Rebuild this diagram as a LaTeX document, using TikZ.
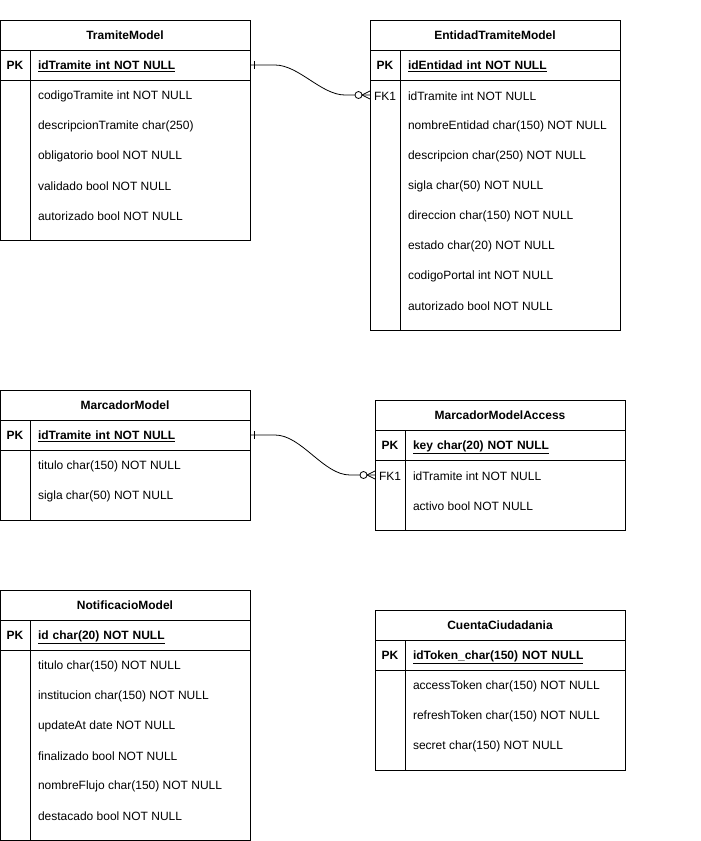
\documentclass[tikz,border=0pt]{standalone}
\usepackage{fontspec}
\setmainfont{Liberation Sans}
\usetikzlibrary{positioning}

\begin{document}
\begin{tikzpicture}[x=1pt,y=-1pt,line width=0.8pt,
	font=\fontsize{12}{14}\selectfont,
	every node/.style={outer sep=0pt},
	hdr/.style={draw,anchor=north west,minimum width=250pt,minimum height=30pt,inner sep=0pt,text height=9pt,text depth=0pt,font=\fontsize{12}{14}\selectfont\bfseries},
	key/.style={draw,anchor=north west,minimum width=30pt,minimum height=30pt,inner sep=0pt,text height=9pt,text depth=0pt,font=\fontsize{12}{14}\selectfont\bfseries},
	keyrow/.style={draw,anchor=north west,minimum width=220pt,minimum height=30pt,inner xsep=8pt,inner ysep=0pt,text width=204pt,text height=9pt,text depth=0pt,align=left,font=\fontsize{12}{14}\selectfont\bfseries},
	side/.style={draw,anchor=north west,minimum width=30pt,inner sep=0pt},
	body/.style={draw,anchor=north west,minimum width=220pt,inner sep=0pt},
	field/.style={anchor=west,inner sep=0pt},
	rel/.style={line width=0.8pt}]
	\useasboundingbox (0,0) rectangle (701,841);

	% TramiteModel
	\node[hdr] (tram) at (0,20) {TramiteModel};
	\node[key] (tramK) at (tram.south west) {PK};
	\node[keyrow] (tramKR) at (tramK.north east) {\underline{idTramite int NOT NULL}};
	\node[side,minimum height=160pt] (tramS) at (tramK.south west) {};
	\node[body,minimum height=160pt] (tramB) at (tramS.north east) {};
	\foreach \t [count=\i] in {codigoTramite int NOT NULL, descripcionTramite char(250), obligatorio bool NOT NULL, validado bool NOT NULL, autorizado bool NOT NULL}
		\node[field] (tramF\i) at (38,66+30*\i) {\t};

	% EntidadTramiteModel
	\node[hdr] (ent) at (370,20) {EntidadTramiteModel};
	\node[key] (entK) at (ent.south west) {PK};
	\node[keyrow] (entKR) at (entK.north east) {\underline{idEntidad int NOT NULL}};
	\node[side,minimum height=250pt] (entS) at (entK.south west) {};
	\node[body,minimum height=250pt] (entB) at (entS.north east) {};
	\node (entFKt) at (385,96) {FK1};
	\foreach \t [count=\i] in {idTramite int NOT NULL, nombreEntidad char(150) NOT NULL, descripcion char(250) NOT NULL, sigla char(50) NOT NULL, direccion char(150) NOT NULL, estado char(20) NOT NULL, codigoPortal int NOT NULL, autorizado bool NOT NULL}
		\node[field] (entF\i) at (408,66+30*\i) {\t};
	\coordinate (entFK) at (370,95);

	% MarcadorModel
	\node[hdr] (marc) at (0,390) {MarcadorModel};
	\node[key] (marcK) at (marc.south west) {PK};
	\node[keyrow] (marcKR) at (marcK.north east) {\underline{idTramite int NOT NULL}};
	\node[side,minimum height=70pt] (marcS) at (marcK.south west) {};
	\node[body,minimum height=70pt] (marcB) at (marcS.north east) {};
	\foreach \t [count=\i] in {titulo char(150) NOT NULL, sigla char(50) NOT NULL}
		\node[field] (marcF\i) at (38,436+30*\i) {\t};

	% MarcadorModelAccess
	\node[hdr] (acc) at (375,400) {MarcadorModelAccess};
	\node[key] (accK) at (acc.south west) {PK};
	\node[keyrow] (accKR) at (accK.north east) {\underline{key char(20) NOT NULL}};
	\node[side,minimum height=70pt] (accS) at (accK.south west) {};
	\node[body,minimum height=70pt] (accB) at (accS.north east) {};
	\node (accFKt) at (390,476) {FK1};
	\foreach \t [count=\i] in {idTramite int NOT NULL, activo bool NOT NULL}
		\node[field] (accF\i) at (413,446+30*\i) {\t};
	\coordinate (accFK) at (375,475);

	% NotificacioModel
	\node[hdr] (noti) at (0,590) {NotificacioModel};
	\node[key] (notiK) at (noti.south west) {PK};
	\node[keyrow] (notiKR) at (notiK.north east) {\underline{id char(20) NOT NULL}};
	\node[side,minimum height=190pt] (notiS) at (notiK.south west) {};
	\node[body,minimum height=190pt] (notiB) at (notiS.north east) {};
	\foreach \t [count=\i] in {titulo char(150) NOT NULL, institucion char(150) NOT NULL, updateAt date NOT NULL, finalizado bool NOT NULL, nombreFlujo char(150) NOT NULL, destacado bool NOT NULL}
		\node[field] (notiF\i) at (38,636+30*\i) {\t};

	% CuentaCiudadania
	\node[hdr] (cta) at (375,610) {CuentaCiudadania};
	\node[key] (ctaK) at (cta.south west) {PK};
	\node[keyrow] (ctaKR) at (ctaK.north east) {\underline{idToken\_char(150) NOT NULL}};
	\node[side,minimum height=100pt] (ctaS) at (ctaK.south west) {};
	\node[body,minimum height=100pt] (ctaB) at (ctaS.north east) {};
	\foreach \t [count=\i] in {accessToken char(150) NOT NULL, refreshToken char(150) NOT NULL, secret char(150) NOT NULL}
		\node[field] (ctaF\i) at (413,656+30*\i) {\t};

	% relations: one to zero-or-many
	\draw[rel] (tramKR.east) -- ++(25,0) to[out=0,in=180,looseness=0.8] ++(70,30) -- (entFK);
	\draw[rel] (tramKR.east) ++(4,-4) -- ++(0,8);
	\draw[rel] (entFK) ++(-8,0) -- ++(8,-4) (entFK) ++(-8,0) -- ++(8,4);
	\draw[rel,fill=white] (entFK) ++(-11.5,0) circle[radius=3.5pt];

	\draw[rel] (marcKR.east) -- ++(25,0) to[out=0,in=180,looseness=0.8] ++(75,40) -- (accFK);
	\draw[rel] (marcKR.east) ++(4,-4) -- ++(0,8);
	\draw[rel] (accFK) ++(-8,0) -- ++(8,-4) (accFK) ++(-8,0) -- ++(8,4);
	\draw[rel,fill=white] (accFK) ++(-11.5,0) circle[radius=3.5pt];
\end{tikzpicture}
\end{document}
